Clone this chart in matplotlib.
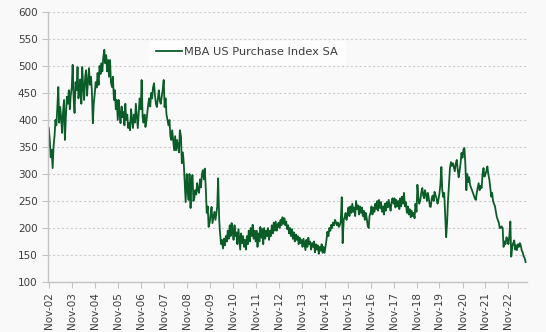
import pandas as pd
import matplotlib
matplotlib.use("Agg")
import matplotlib.pyplot as plt
import matplotlib.dates as mdates

# semi-monthly readings of the index, one row per year (Nov -> Oct)
y2003 = [385, 365, 331, 345, 311, 350, 372, 400, 390, 420, 461, 395, 424, 405, 376, 415, 437, 363, 410, 443, 430, 455, 420, 445]
y2004 = [460, 502, 440, 413, 470, 455, 498, 440, 455, 475, 430, 498, 460, 437, 480, 492, 445, 470, 496, 465, 480, 455, 394, 430]
y2005 = [450, 470, 460, 487, 465, 500, 485, 505, 490, 515, 530, 505, 520, 490, 511, 480, 511, 470, 461, 480, 437, 455, 420, 437]
y2006 = [400, 437, 410, 394, 425, 405, 415, 390, 430, 400, 410, 385, 395, 381, 420, 400, 385, 410, 395, 430, 405, 385, 415, 440]
y2007 = [420, 474, 405, 395, 410, 387, 400, 415, 430, 440, 425, 450, 440, 460, 468, 445, 430, 424, 440, 455, 435, 430, 443, 455]
y2008 = [474, 424, 440, 410, 400, 390, 400, 370, 363, 381, 360, 344, 370, 344, 363, 350, 340, 381, 370, 320, 340, 320, 283, 248]
y2009 = [300, 270, 252, 300, 237, 290, 298, 250, 255, 270, 262, 283, 270, 265, 290, 275, 300, 307, 290, 310, 270, 228, 240, 202]
y2010 = [210, 225, 239, 209, 220, 230, 215, 228, 240, 292, 215, 190, 170, 178, 162, 180, 168, 185, 175, 195, 180, 205, 185, 209]
y2011 = [195, 178, 205, 185, 192, 170, 198, 180, 160, 190, 172, 185, 165, 178, 160, 185, 170, 195, 175, 200, 185, 206, 180, 195]
y2012 = [175, 195, 165, 190, 175, 202, 182, 198, 170, 200, 180, 195, 185, 200, 178, 195, 185, 205, 190, 210, 195, 212, 195, 205]
y2013 = [210, 200, 215, 205, 220, 208, 218, 205, 212, 198, 205, 190, 200, 185, 198, 180, 192, 175, 188, 178, 185, 170, 182, 172]
y2014 = [178, 165, 180, 170, 159, 178, 165, 182, 170, 175, 160, 172, 165, 175, 155, 170, 160, 168, 152, 165, 158, 170, 154, 165]
y2015 = [154, 165, 178, 193, 185, 200, 195, 206, 200, 210, 205, 215, 211, 205, 210, 202, 205, 212, 257, 172, 215, 220, 228, 215]
y2016 = [225, 238, 222, 240, 228, 245, 230, 238, 222, 250, 235, 242, 225, 240, 228, 238, 222, 232, 215, 228, 218, 205, 200, 222]
y2017 = [228, 240, 225, 238, 230, 245, 235, 250, 232, 252, 237, 248, 230, 240, 225, 245, 232, 248, 238, 252, 240, 232, 248, 255]
y2018 = [245, 255, 238, 252, 240, 250, 235, 255, 240, 258, 245, 265, 240, 248, 228, 240, 225, 235, 220, 232, 222, 228, 218, 245]
y2019 = [230, 280, 255, 245, 252, 265, 274, 260, 255, 270, 262, 250, 265, 255, 240, 239, 255, 260, 250, 267, 260, 255, 245, 252]
y2020 = [265, 280, 313, 270, 257, 265, 220, 183, 210, 250, 283, 310, 322, 315, 320, 313, 305, 318, 326, 310, 294, 305, 320, 339]
y2021 = [330, 345, 348, 320, 270, 300, 285, 294, 280, 275, 270, 265, 260, 255, 252, 265, 275, 283, 270, 278, 274, 300, 311, 295]
y2022 = [300, 305, 314, 300, 290, 275, 258, 265, 250, 245, 240, 230, 220, 215, 210, 200, 200, 203, 200, 165, 175, 170, 183, 178]
y2023 = [170, 185, 212, 147, 165, 172, 177, 160, 168, 159, 170, 165, 172, 168, 158, 155, 147, 145, 137]

index_values = (y2003 + y2004 + y2005 + y2006 + y2007 + y2008 + y2009 + y2010 + y2011
                + y2012 + y2013 + y2014 + y2015 + y2016 + y2017 + y2018 + y2019
                + y2020 + y2021 + y2022 + y2023)
dates = pd.date_range("2002-11-01", periods=len(index_values), freq="SMS")
tick_dates = pd.date_range("2002-11-01", "2022-11-01", freq="12MS")
yticks = [100, 150, 200, 250, 300, 350, 400, 450, 500, 550, 600]

bg = "#f9f9f9"
fig = plt.figure(figsize=(5.46, 3.32), dpi=100, facecolor=bg)
ax = fig.add_axes([0.088, 0.1506, 0.877, 0.8134], facecolor=bg)

ax.plot(dates, index_values, color="#0b5d28", linewidth=1.3, label="MBA US Purchase Index SA")

ax.set_ylim(100, 600)
ax.set_yticks(yticks)
ax.set_xlim(dates[0] - pd.Timedelta(days=12), dates[-1] + pd.Timedelta(days=20))
ax.set_xticks(tick_dates)
ax.xaxis.set_major_formatter(mdates.DateFormatter("%b-%y"))

ax.grid(axis="y", linestyle=(0, (2, 2)), color="#cccccc", linewidth=0.8)
ax.set_axisbelow(True)
for side in ["top", "right"]:
    ax.spines[side].set_visible(False)
for side in ["left", "bottom"]:
    ax.spines[side].set_color("#c4c4c4")
    ax.spines[side].set_linewidth(1.0)

ax.tick_params(axis="both", colors="#c4c4c4", labelcolor="#3c3c3c", labelsize=7.5, length=4)
ax.tick_params(axis="x", labelrotation=90)

leg = ax.legend(loc="center", bbox_to_anchor=(0.415, 0.85), frameon=True, fontsize=8.2,
                handlelength=2.3, handletextpad=0.2, borderpad=0.6, fancybox=False)
leg.get_frame().set_facecolor("white")
leg.get_frame().set_edgecolor("white")
for t in leg.get_texts():
    t.set_color("#3c3c3c")

fig.savefig("out.png", dpi=100, facecolor=bg)
